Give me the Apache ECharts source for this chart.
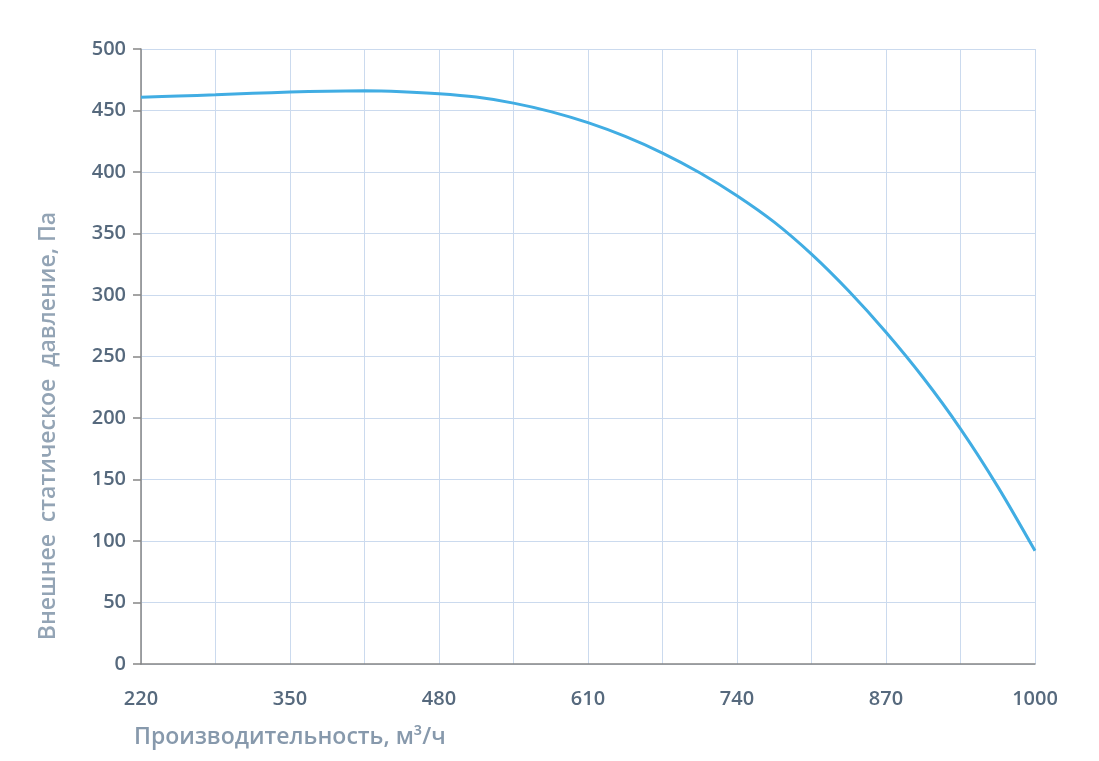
<!DOCTYPE html>
<html>
<head>
<meta charset="utf-8">
<script src="https://cdn.jsdelivr.net/npm/echarts@6/dist/echarts.min.js"></script>
<style>
	html, body { margin: 0; padding: 0; background: #fff; }
	#main { width: 1099px; height: 761px; }
</style>
</head>
<body>
<div id="main"></div>
<script>
// производительность, м3/ч
var flowValues = [220, 252.5, 285, 317.5, 350, 382.5, 415, 447.5, 480, 512.5, 545, 577.5, 610, 642.5, 675, 707.5, 740, 772.5, 805, 837.5, 870, 902.5, 935, 967.5, 1000];
// внешнее статическое давление, Па
var pressureValues = [460.7, 461.8, 462.8, 464, 465, 465.7, 466, 465.3, 463.7, 460.9, 456, 449.1, 440.1, 428.9, 415.4, 399.4, 380.7, 359.2, 333.2, 303.2, 269.7, 232.7, 191.2, 144.2, 92];
var xTickLabels = [220, 350, 480, 610, 740, 870, 1000];
var yTickLabels = [0, 50, 100, 150, 200, 250, 300, 350, 400, 450, 500];

var xName = 'Производительность, м³/ч';
var yName = 'Внешнее  статическое  давление, Па';

// ось X считается от начала диапазона, чтобы сетка шла через 65
var X0 = xTickLabels[0];
var seriesData = flowValues.map(function(v, i) {
	return [v - X0, pressureValues[i]];
});

var chart = echarts.init(document.getElementById('main'));
var option = {
	backgroundColor : '#ffffff',
	animation : false,
	grid : {
		left : 141,
		right : 64,
		top : 49,
		bottom : 97
	},
	xAxis : {
		type : 'value',
		min : 0,
		max : xTickLabels[xTickLabels.length - 1] - X0,
		interval : 65,
		axisLine : {
			show : true,
			lineStyle : { color : '#868686', width : 1.5 }
		},
		axisTick : { show : false },
		splitLine : {
			show : true,
			lineStyle : { color : '#cbdaee', width : 1 }
		},
		axisLabel : {
			margin : 25,
			fontFamily : 'Open Sans',
			fontSize : 20,
			fontWeight : 600,
			color : '#56697d',
			showMaxLabel : true,
			formatter : function(value) {
				var real = value + X0;
				return xTickLabels.indexOf(real) >= 0 ? String(real) : '';
			}
		}
	},
	yAxis : {
		type : 'value',
		min : yTickLabels[0],
		max : yTickLabels[yTickLabels.length - 1],
		interval : 50,
		axisLine : {
			show : true,
			lineStyle : { color : '#868686', width : 1.5 }
		},
		axisTick : {
			show : true,
			length : 8,
			lineStyle : { color : '#868686', width : 1.5 }
		},
		splitLine : {
			show : true,
			lineStyle : { color : '#cbdaee', width : 1 }
		},
		axisLabel : {
			margin : 15,
			fontFamily : 'Open Sans',
			fontSize : 20,
			fontWeight : 600,
			color : '#56697d'
		}
	},
	graphic : [ {
		type : 'text',
		x : 48,
		y : 426,
		rotation : Math.PI / 2,
		style : {
			text : yName,
			fontFamily : 'Open Sans',
			fontSize : 23,
			fontWeight : 600,
			fill : '#93a4b5',
			align : 'center',
			verticalAlign : 'middle'
		}
	}, {
		type : 'text',
		x : 134,
		y : 737,
		style : {
			text : xName,
			fontFamily : 'Open Sans',
			fontSize : 23,
			fontWeight : 600,
			fill : '#8799ac',
			align : 'left',
			verticalAlign : 'middle'
		}
	} ],
	series : [ {
		type : 'line',
		smooth : 0.3,
		showSymbol : false,
		data : seriesData,
		lineStyle : { color : '#41ade3', width : 3 },
		itemStyle : { color : '#41ade3' }
	} ]
};
chart.setOption(option);
</script>
</body>
</html>
